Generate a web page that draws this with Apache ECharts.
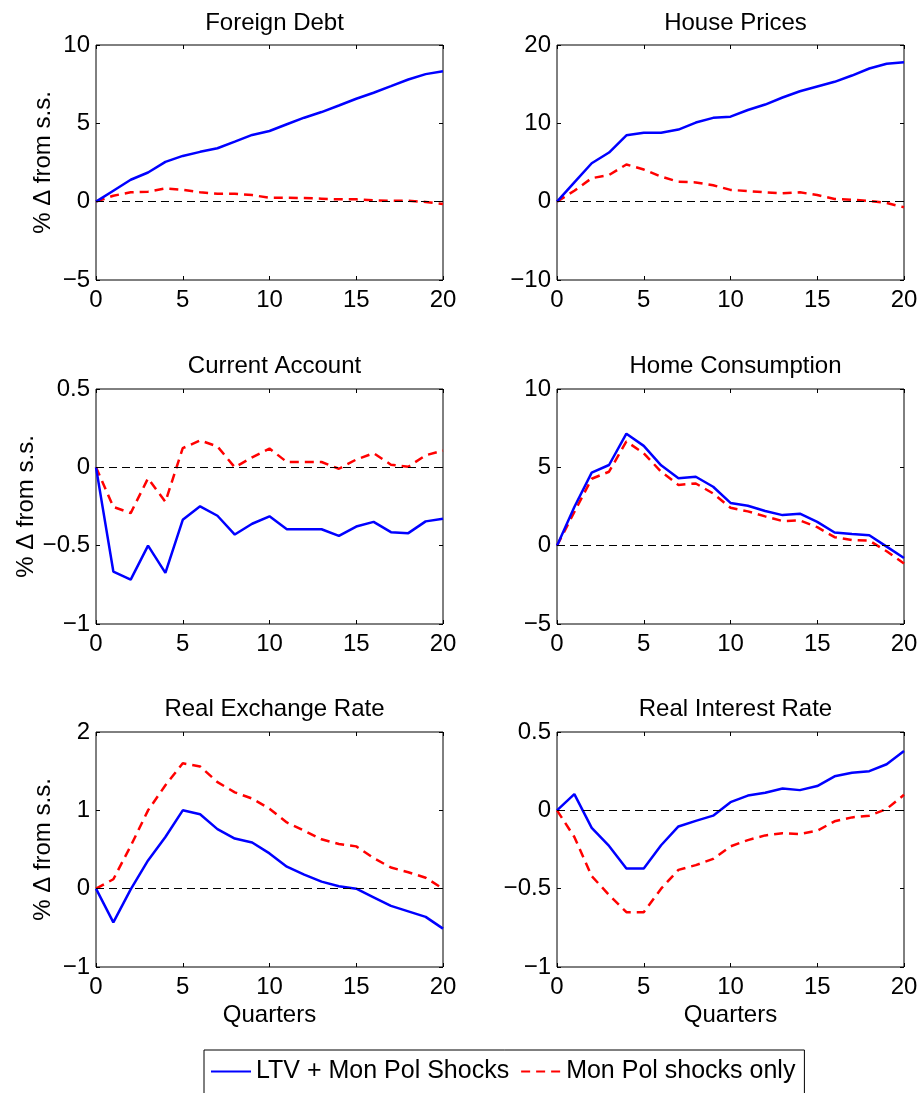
<!DOCTYPE html>
<html>
<head>
<meta charset="utf-8">
<script src="https://cdn.jsdelivr.net/npm/echarts@6/dist/echarts.min.js"></script>
<style>
  html, body { margin: 0; padding: 0; background: #fff; }
  #main { width: 922px; height: 1093px; }
</style>
</head>
<body>
<div id="main"></div>
<script>
// quarters after the shock
const quarters = [0, 1, 2, 3, 4, 5, 6, 7, 8, 9, 10, 11, 12, 13, 14, 15, 16, 17, 18, 19, 20]

const panelTitles = ["Foreign Debt", "House Prices", "Current Account", "Home Consumption", "Real Exchange Rate", "Real Interest Rate"]
const legendNames = ["LTV + Mon Pol Shocks", "Mon Pol shocks only"]

// y axis ranges per panel: [min, max, interval]
const yRanges = [[-5, 10, 5], [-10, 20, 10], [-1, 0.5, 0.5], [-5, 10, 5], [-1, 2, 1], [-1, 0.5, 0.5]]

// LTV + Mon Pol shocks (blue)
const debtLtv = [0, 0.7, 1.4, 1.86, 2.54, 2.92, 3.18, 3.41, 3.83, 4.26, 4.51, 4.94, 5.36, 5.72, 6.14, 6.57, 6.95, 7.37, 7.8, 8.14, 8.33]
const houseLtv = [0, 2.46, 4.9, 6.27, 8.47, 8.8, 8.8, 9.2, 10.1, 10.7, 10.85, 11.7, 12.4, 13.3, 14.1, 14.7, 15.3, 16.1, 17.0, 17.6, 17.8]
const caLtv = [0, -0.665, -0.717, -0.5, -0.674, -0.335, -0.249, -0.309, -0.429, -0.36, -0.313, -0.395, -0.395, -0.395, -0.438, -0.378, -0.348, -0.414, -0.42, -0.345, -0.328]
const consLtv = [0, 2.47, 4.66, 5.15, 7.15, 6.37, 5.13, 4.31, 4.4, 3.76, 2.73, 2.55, 2.21, 1.95, 2.04, 1.52, 0.84, 0.75, 0.67, -0.06, -0.79]
const rerLtv = [0, -0.43, -0.01, 0.36, 0.66, 1.0, 0.95, 0.76, 0.64, 0.59, 0.45, 0.28, 0.18, 0.09, 0.03, 0, -0.11, -0.22, -0.29, -0.36, -0.51]
const rirLtv = [0, 0.103, -0.112, -0.227, -0.371, -0.371, -0.223, -0.103, -0.067, -0.034, 0.052, 0.094, 0.112, 0.139, 0.129, 0.155, 0.217, 0.24, 0.25, 0.294, 0.378]

// Mon Pol shocks only (red dashed)
const debtMp = [0, 0.38, 0.6, 0.64, 0.85, 0.76, 0.6, 0.51, 0.51, 0.42, 0.25, 0.25, 0.23, 0.19, 0.15, 0.15, 0.08, 0.06, 0.06, -0.02, -0.15]
const houseMp = [0, 1.4, 3.0, 3.4, 4.75, 4.1, 3.2, 2.54, 2.46, 2.1, 1.5, 1.36, 1.19, 1.06, 1.19, 0.85, 0.34, 0.25, 0.08, -0.17, -0.72]
const caMp = [0, -0.253, -0.292, -0.07, -0.22, 0.122, 0.172, 0.133, 0, 0.064, 0.12, 0.034, 0.034, 0.034, -0.009, 0.05, 0.09, 0.017, 0.004, 0.077, 0.107]
const consMp = [0, 2.15, 4.27, 4.72, 6.65, 5.9, 4.72, 3.88, 3.97, 3.33, 2.42, 2.19, 1.87, 1.57, 1.61, 1.18, 0.54, 0.36, 0.32, -0.36, -1.14]
const rerMp = [0, 0.12, 0.545, 1.0, 1.32, 1.6, 1.56, 1.36, 1.23, 1.15, 1.02, 0.845, 0.74, 0.63, 0.57, 0.54, 0.39, 0.27, 0.21, 0.14, 0]
const rirMp = [0, -0.17, -0.42, -0.54, -0.65, -0.65, -0.5, -0.38, -0.35, -0.31, -0.23, -0.19, -0.16, -0.146, -0.152, -0.13, -0.07, -0.045, -0.034, 0.009, 0.099]

const ltvSeries = [debtLtv, houseLtv, caLtv, consLtv, rerLtv, rirLtv]
const mpSeries = [debtMp, houseMp, caMp, consMp, rerMp, rirMp]

const FONT = "Liberation Sans, Arial, Helvetica, sans-serif"
const lefts = [96, 557]
const tops = [45, 389, 732]
const titleTops = [6, 349, 692]
const W = 347, H = 235

const minus = (v) => String(v).replace("-", "\u2212")
const pairs = (vals) => quarters.map((q, i) => [q, vals[i]])

let grid = [], xAxis = [], yAxis = [], series = [], title = []

panelTitles.forEach((name, p) => {
    const col = p % 2
    const row = Math.floor(p / 2)
    grid.push({
        left: lefts[col], top: tops[row], width: W, height: H,
        show: true, borderColor: "#000", borderWidth: 1, backgroundColor: "transparent"
    })
    title.push({
        text: name, left: lefts[col] + W / 2, top: titleTops[row], textAlign: "center",
        textStyle: { fontFamily: FONT, fontSize: 24, fontWeight: "normal", color: "#000" }
    })
    const tick = { show: true, inside: true, length: 4, lineStyle: { color: "#000" } }
    const noLine = { show: false, onZero: false }
    // bottom x axis
    xAxis.push({
        gridIndex: p, type: "value", min: 0, max: 20, interval: 5, position: "bottom",
        axisLine: noLine, axisTick: tick, splitLine: { show: false },
        axisLabel: { color: "#000", fontSize: 24, fontFamily: FONT, margin: 8 },
        name: row === 2 ? "Quarters" : "", nameLocation: "middle", nameGap: 36,
        nameTextStyle: { color: "#000", fontSize: 24, fontFamily: FONT }
    })
    // top x axis, ticks only
    xAxis.push({
        gridIndex: p, type: "value", min: 0, max: 20, interval: 5, position: "top",
        axisLine: noLine, axisTick: tick, splitLine: { show: false }, axisLabel: { show: false }
    })
    const r = yRanges[p]
    yAxis.push({
        gridIndex: p, type: "value", min: r[0], max: r[1], interval: r[2], position: "left",
        axisLine: noLine, axisTick: tick, splitLine: { show: false },
        axisLabel: { color: "#000", fontSize: 24, fontFamily: FONT, margin: 6, formatter: minus },
        name: col === 0 ? "% \u0394 from s.s." : "", nameLocation: "middle", nameGap: 41,
        nameTextStyle: { color: "#000", fontSize: 24, fontFamily: FONT }
    })
    yAxis.push({
        gridIndex: p, type: "value", min: r[0], max: r[1], interval: r[2], position: "right",
        axisLine: noLine, axisTick: tick, splitLine: { show: false }, axisLabel: { show: false }
    })
    series.push({
        name: legendNames[0], type: "line", xAxisIndex: 2 * p, yAxisIndex: 2 * p,
        data: pairs(ltvSeries[p]), symbol: "none", z: 3,
        lineStyle: { color: "#0000ff", width: 2.5 }, itemStyle: { color: "#0000ff" },
        markLine: {
            silent: true, symbol: "none", label: { show: false },
            lineStyle: { color: "#000", type: [8, 5], width: 1.2 },
            data: [{ yAxis: 0 }]
        }
    })
    series.push({
        name: legendNames[1], type: "line", xAxisIndex: 2 * p, yAxisIndex: 2 * p,
        data: pairs(mpSeries[p]), symbol: "none", z: 2,
        lineStyle: { color: "#ff0000", width: 2.5, type: [9, 6] }, itemStyle: { color: "#ff0000" }
    })
})

const chart = echarts.init(document.getElementById("main"))
chart.setOption({
    animation: false,
    textStyle: { fontFamily: FONT },
    title: title,
    grid: grid,
    xAxis: xAxis,
    yAxis: yAxis,
    legend: {
        data: legendNames, left: 204, top: 1050, orient: "horizontal",
        borderColor: "#000", borderWidth: 1, padding: [9, 9, 16, 6],
        itemWidth: 40, itemHeight: 14, itemGap: 11,
        itemStyle: { opacity: 0 },
        textStyle: { color: "#000", fontSize: 25, fontFamily: FONT }
    },
    series: series
})
</script>
</body>
</html>
